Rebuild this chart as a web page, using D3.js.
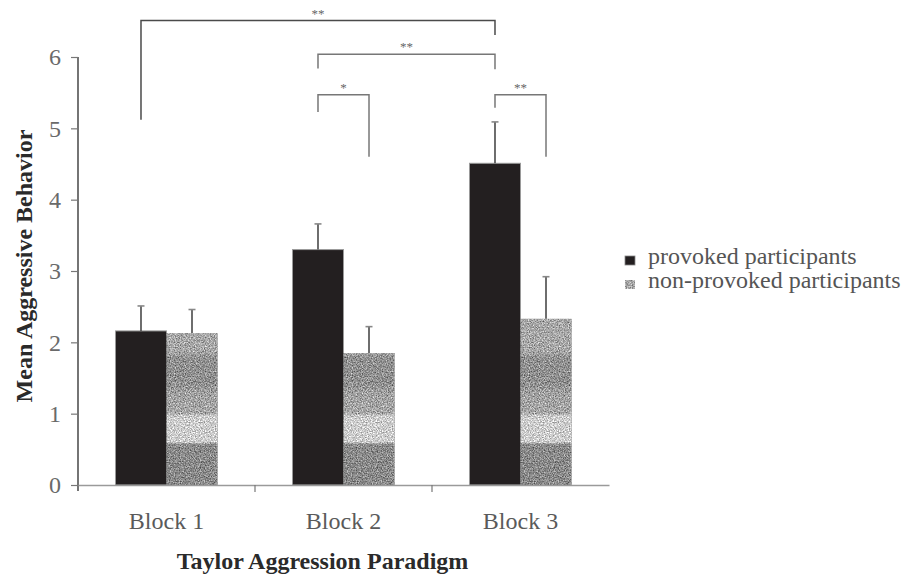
<!DOCTYPE html>
<html>
<head>
<meta charset="utf-8">
<script src="https://cdn.jsdelivr.net/npm/d3@7"></script>
<style>
  html, body { margin: 0; padding: 0; background: #fff; }
  svg { display: block; }
  text { font-family: "Liberation Serif", "Times New Roman", serif; }
</style>
</head>
<body>
<svg id="chart" width="905" height="576"></svg>
<script>
// Taylor Aggression Paradigm: mean aggressive behaviour per block
const blocks = ["Block 1", "Block 2", "Block 3"];
const groups = ["provoked participants", "non-provoked participants"];
const provokedMeans = [2.16, 3.30, 4.51];
const provokedErrors = [0.35, 0.36, 0.58];
const nonProvokedMeans = [2.13, 1.85, 2.33];
const nonProvokedErrors = [0.33, 0.37, 0.59];
const yTicks = [0, 1, 2, 3, 4, 5, 6];

// Significance comparisons: [block, group index] pairs and their star labels
const comparisons = [
  { a: ["Block 1", 0], b: ["Block 3", 0], label: "**" },
  { a: ["Block 2", 0], b: ["Block 3", 0], label: "**" },
  { a: ["Block 2", 0], b: ["Block 2", 1], label: "*" },
  { a: ["Block 3", 0], b: ["Block 3", 1], label: "**" }
];
// Bracket geometry in axis units: bar height, left leg end, right leg end
const bracketLevels = [
  { top: 6.51, legA: 5.12, legB: 6.31 },
  { top: 6.04, legA: 5.84, legB: 5.83 },
  { top: 5.47, legA: 5.23, legB: 4.60 },
  { top: 5.47, legA: 5.29, legB: 4.60 }
];

const rows = blocks.map((b, i) => ({
  block: b,
  values: [
    { g: 0, mean: provokedMeans[i], err: provokedErrors[i] },
    { g: 1, mean: nonProvokedMeans[i], err: nonProvokedErrors[i] }
  ]
}));

const svg = d3.select("#chart");
const plotLeft = 78, plotRight = 609, plotTop = 57, plotBottom = 485;

const x = d3.scaleBand().domain(blocks).range([plotLeft, plotRight]).paddingInner(0).paddingOuter(0);
const xg = d3.scaleBand().domain([0, 1]).range([0, x.bandwidth()]).paddingInner(0).paddingOuter(0.735);
const y = d3.scaleLinear().domain([0, 6]).range([plotBottom, plotTop]);

// Textured grey fill for the non-provoked bars
const defs = svg.append("defs");
const grad = defs.append("linearGradient")
  .attr("id", "npGrad").attr("gradientUnits", "userSpaceOnUse")
  .attr("x1", 0).attr("x2", 0).attr("y1", y(0)).attr("y2", y(3));
const bandStops = [
  [0, "#8a8a8a"], [0.575, "#8a8a8a"], [0.6, "#cdcdcd"], [0.97, "#cdcdcd"],
  [1.0, "#a6a6a6"], [1.32, "#a0a0a0"], [1.40, "#909090"], [1.78, "#909090"],
  [1.88, "#a8a8a8"], [3, "#a4a4a4"]
];
bandStops.forEach(([v, c]) => grad.append("stop").attr("offset", v / 3).attr("stop-color", c));

const filt = defs.append("filter").attr("id", "grain")
  .attr("x", 0).attr("y", 0).attr("width", 1).attr("height", 1)
  .attr("color-interpolation-filters", "sRGB");
filt.append("feTurbulence").attr("type", "fractalNoise").attr("baseFrequency", 0.8)
  .attr("numOctaves", 2).attr("seed", 7).attr("result", "noise");
filt.append("feColorMatrix").attr("in", "noise").attr("type", "matrix")
  .attr("values", "1 0 0 0 0  1 0 0 0 0  1 0 0 0 0  0 0 0 0 1").attr("result", "grey");
filt.append("feComposite").attr("in", "SourceGraphic").attr("in2", "grey")
  .attr("operator", "arithmetic").attr("k1", 0).attr("k2", 1).attr("k3", 0.85).attr("k4", -0.425)
  .attr("result", "mix");
filt.append("feComposite").attr("in", "mix").attr("in2", "SourceGraphic").attr("operator", "in");

const fills = ["#231f20", "url(#npGrad)"];

// Bars
const gBlocks = svg.append("g").selectAll("g").data(rows).join("g")
  .attr("transform", d => `translate(${x(d.block)},0)`);

gBlocks.selectAll("rect").data(d => d.values).join("rect")
  .attr("x", d => xg(d.g))
  .attr("y", d => y(d.mean))
  .attr("width", xg.bandwidth())
  .attr("height", d => y(0) - y(d.mean))
  .attr("fill", d => fills[d.g])
  .attr("filter", d => d.g === 1 ? "url(#grain)" : null)
  .attr("stroke", d => d.g === 0 ? "#9a9a9a" : "none")
  .attr("stroke-width", 1);

// Error bars (upper half only)
const eb = gBlocks.selectAll("g.err").data(d => d.values).join("g").attr("class", "err");
eb.append("line")
  .attr("x1", d => xg(d.g) + xg.bandwidth() / 2).attr("x2", d => xg(d.g) + xg.bandwidth() / 2)
  .attr("y1", d => y(d.mean)).attr("y2", d => y(d.mean + d.err))
  .attr("stroke", "#4a4a4a").attr("stroke-width", 1.6);
eb.append("line")
  .attr("x1", d => xg(d.g) + xg.bandwidth() / 2 - 3.5).attr("x2", d => xg(d.g) + xg.bandwidth() / 2 + 3.5)
  .attr("y1", d => y(d.mean + d.err)).attr("y2", d => y(d.mean + d.err))
  .attr("stroke", "#888").attr("stroke-width", 1.6);

// Y axis
const yAxis = svg.append("g").attr("transform", `translate(${plotLeft},0)`)
  .call(d3.axisLeft(y).tickValues(yTicks).tickFormat(d3.format("d"))
    .tickSize(7).tickSizeOuter(0).tickPadding(10));
yAxis.select(".domain").attr("stroke", "#3a3a3a").attr("stroke-width", 1.4)
  .attr("d", `M0,${plotTop}V${plotBottom + 6}`);
yAxis.selectAll(".tick line").attr("stroke", "#777").attr("stroke-width", 1.2);
yAxis.selectAll(".tick text")
  .attr("font-size", 24).attr("fill", "#6a6a6a")
  .attr("text-anchor", "middle").attr("x", -23).attr("dy", "0.33em");

// X axis with category labels and ticks on the block boundaries
const xAxis = svg.append("g").attr("transform", `translate(0,${plotBottom})`)
  .call(d3.axisBottom(x).tickSize(0).tickSizeOuter(0).tickPadding(27));
xAxis.select(".domain").attr("stroke", "#9a9a9a").attr("stroke-width", 1.4);
xAxis.selectAll(".tick text")
  .attr("font-size", 24).attr("fill", "#5a5a5a");
xAxis.selectAll("line.sep").data(blocks.slice(1)).join("line").attr("class", "sep")
  .attr("x1", d => x(d)).attr("x2", d => x(d)).attr("y1", 0).attr("y2", 7)
  .attr("stroke", "#777").attr("stroke-width", 1.2);

// Axis titles
svg.append("text")
  .attr("x", (plotLeft + plotRight) / 2 - 21).attr("y", 569)
  .attr("text-anchor", "middle").attr("font-size", 24).attr("font-weight", "bold")
  .attr("fill", "#2a2a2a")
  .text("Taylor Aggression Paradigm");
svg.append("text")
  .attr("transform", "translate(32,266) rotate(-90)")
  .attr("text-anchor", "middle").attr("font-size", 24).attr("font-weight", "bold")
  .attr("fill", "#2a2a2a")
  .text("Mean Aggressive Behavior");

// Significance brackets
const barCenter = ([b, g]) => x(b) + xg(g) + xg.bandwidth() / 2;
const br = svg.append("g").selectAll("g").data(comparisons).join("g");
br.append("path")
  .attr("d", (d, i) => {
    const L = bracketLevels[i];
    const xa = barCenter(d.a), xb = barCenter(d.b);
    return `M${xa},${y(L.legA)}V${y(L.top)}H${xb}V${y(L.legB)}`;
  })
  .attr("fill", "none").attr("stroke", (d, i) => i === 0 ? "#4a4a4a" : "#777")
  .attr("stroke-width", 1.5);
br.append("text")
  .attr("x", d => (barCenter(d.a) + barCenter(d.b)) / 2)
  .attr("y", (d, i) => y(bracketLevels[i].top) - 3)
  .attr("text-anchor", "middle").attr("font-size", 13).attr("fill", "#666")
  .text(d => d.label);

// Legend
const legend = svg.append("g").attr("transform", "translate(625,256)");
const li = legend.selectAll("g").data(groups).join("g")
  .attr("transform", (d, i) => `translate(0,${i * 24})`);
li.append("rect").attr("width", 10).attr("height", 9).attr("y", 0)
  .attr("fill", (d, i) => i === 0 ? "#231f20" : "#a8a8a8")
  .attr("filter", (d, i) => i === 1 ? "url(#grain)" : null)
  .attr("stroke", (d, i) => i === 0 ? "#888" : "none").attr("stroke-width", 0.8);
li.append("text").attr("x", 23).attr("y", 8)
  .attr("font-size", 24).attr("fill", "#555")
  .text(d => d);
</script>
</body>
</html>
